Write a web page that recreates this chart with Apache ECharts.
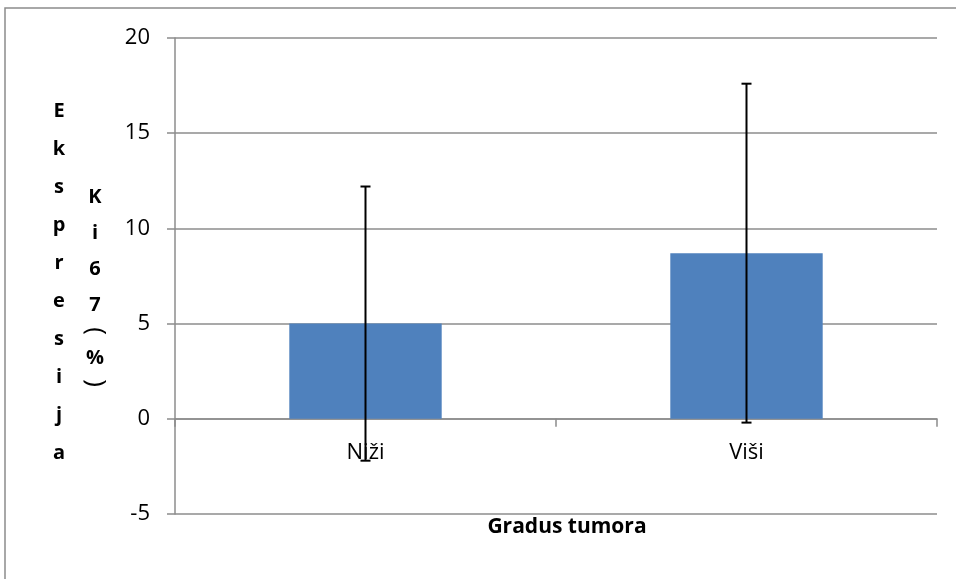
<!DOCTYPE html>
<html>
<head>
<meta charset="utf-8">
<script src="https://cdn.jsdelivr.net/npm/echarts@6/dist/echarts.min.js"></script>
<style>
  html, body { margin: 0; padding: 0; background: #fff; }
  #chart { width: 956px; height: 579px; }
</style>
</head>
<body>
<div id="chart"></div>
<script>
// Ki67 expression by tumour grade: mean with ± deviation
const categories = ['Niži', 'Viši'];
const means = [5.0, 8.7];
const deviations = [7.2, 8.9];
const yTicks = { min: -5, max: 20, interval: 5 };

const xTitle = 'Gradus tumora';
const yTitleOuter = 'Ekspresija';
const yTitleInner = 'Ki67';
const yTitleUnit = ['(', '%', ')'];

const font = '"Open Sans", "Noto Sans", sans-serif';

const gridBox = { left: 175, right: 19, top: 38, bottom: 65 };
const plotHeight = 579 - gridBox.top - gridBox.bottom;
const plotCenterX = gridBox.left + (956 - gridBox.left - gridBox.right) / 2;
// shift the category axis up so it sits on the value 0
const zeroOffset = -plotHeight * (0 - yTicks.min) / (yTicks.max - yTicks.min);

const errorData = categories.map((c, i) => [i, means[i] - deviations[i], means[i] + deviations[i]]);

const titleStyle = { fontFamily: font, fontWeight: 'bold', fontSize: 20, fill: '#000', align: 'center', verticalAlign: 'middle' };

// a parenthesis turned a quarter clockwise, as in a vertically stacked title
function turnedBracket(ch, x, y) {
  return {
    type: 'group',
    x: x, y: y,
    rotation: -Math.PI / 2,
    children: [{
      type: 'text',
      x: 0, y: 0,
      style: Object.assign({ text: ch }, titleStyle, { fontSize: 26, fontWeight: 'normal' })
    }]
  };
}

const chart = echarts.init(document.getElementById('chart'));
chart.setOption({
  animation: false,
  backgroundColor: '#fff',
  grid: gridBox,
  xAxis: {
    type: 'category',
    data: categories,
    offset: zeroOffset,
    axisLine: { onZero: false, lineStyle: { color: '#8c8c8c', width: 1.5 } },
    axisTick: { show: true, length: 8, alignWithLabel: false, lineStyle: { color: '#8c8c8c', width: 1.5 } },
    axisLabel: { color: '#000', fontFamily: font, fontSize: 22, margin: 23 },
    splitLine: { show: false }
  },
  yAxis: {
    type: 'value',
    min: yTicks.min, max: yTicks.max, interval: yTicks.interval,
    axisLine: { show: true, lineStyle: { color: '#8c8c8c', width: 1.5 } },
    axisTick: { show: true, length: 8, lineStyle: { color: '#8c8c8c', width: 1.5 } },
    axisLabel: { color: '#000', fontFamily: font, fontSize: 22, margin: 25 },
    splitLine: { show: true, lineStyle: { color: '#8c8c8c', width: 1.5 } }
  },
  series: [
    {
      type: 'bar',
      data: means,
      barWidth: '40%',
      itemStyle: { color: '#4f81bd' },
      z: 2
    },
    {
      type: 'custom',
      data: errorData,
      z: 5,
      renderItem: function (params, api) {
        const x = api.value(0);
        const lo = api.coord([x, api.value(1)]);
        const hi = api.coord([x, api.value(2)]);
        const cap = 5;
        const style = { stroke: '#000', lineWidth: 2 };
        return {
          type: 'group',
          children: [
            { type: 'line', shape: { x1: hi[0], y1: hi[1], x2: lo[0], y2: lo[1] }, style: style },
            { type: 'line', shape: { x1: hi[0] - cap, y1: hi[1], x2: hi[0] + cap, y2: hi[1] }, style: style },
            { type: 'line', shape: { x1: lo[0] - cap, y1: lo[1], x2: lo[0] + cap, y2: lo[1] }, style: style }
          ]
        };
      }
    }
  ],
  graphic: [
    {
      type: 'rect',
      shape: { x: 5, y: 8, width: 1000, height: 1000 },
      style: { fill: 'none', stroke: '#8c8c8c', lineWidth: 1.5 },
      silent: true
    },
    {
      type: 'text',
      x: plotCenterX + 11, y: 527,
      style: Object.assign({ text: xTitle }, titleStyle, { fontSize: 21 })
    },
    {
      type: 'text',
      x: 59, y: 92,
      style: Object.assign({ text: yTitleOuter.split('').join('\n'), lineHeight: 38 }, titleStyle, { verticalAlign: 'top' })
    },
    {
      type: 'text',
      x: 95, y: 179,
      style: Object.assign({ text: yTitleInner.split('').join('\n'), lineHeight: 36 }, titleStyle, { verticalAlign: 'top' })
    },
    turnedBracket(yTitleUnit[0], 95, 331),
    {
      type: 'text',
      x: 95, y: 358,
      style: Object.assign({ text: yTitleUnit[1] }, titleStyle)
    },
    turnedBracket(yTitleUnit[2], 95, 383)
  ]
});
</script>
</body>
</html>
